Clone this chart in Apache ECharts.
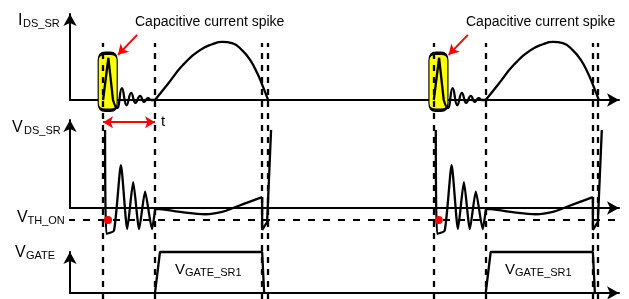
<!DOCTYPE html>
<html>
<head>
<meta charset="utf-8">
<script src="https://cdn.jsdelivr.net/npm/echarts@6.0.0/dist/echarts.min.js"></script>
<style>
  html, body { margin: 0; padding: 0; background: #fff; }
  #chart { width: 629px; height: 299px; }
</style>
</head>
<body>
<div id="chart"></div>
<script>
// time axis: one switching period = 10 units
var periodStarts = [0, 10];
var timeMax = 16.6;
var dashTimes = [1.0, 2.57, 5.8, 5.97];

// I_DS_SR (1 = peak of the conduction hump)
var idsSpike = [[1.0, 0], [1.16, 0.72], [1.3, 0]];
var idsRing = [[1.3, 0], [1.42, -0.14], [1.57, 0.2], [1.71, -0.09], [1.85, 0.12], [1.98, -0.05],
  [2.12, 0.07], [2.24, -0.03], [2.36, 0.03], [2.45, 0], [2.57, 0]];
var idsHump = [[2.57, 0], [2.94, 0.26], [3.42, 0.6], [3.93, 0.85], [4.3, 0.95], [4.6, 0.99],
  [4.9, 0.97], [5.2, 0.85], [5.45, 0.68], [5.66, 0.46], [5.84, 0.22], [5.99, 0]];

// V_DS_SR (1 = blocking voltage)
var vdsRing = [[1.06, 1.0], [1.1, -0.33], [1.33, -0.29], [1.54, 0.55], [1.73, -0.27], [1.91, 0.33],
  [2.09, -0.27], [2.27, 0.21], [2.48, -0.27], [2.57, -0.03]];
var vdsFlat = [[2.57, -0.03], [2.6, -0.01], [3.33, -0.05], [4.09, -0.08], [4.6, -0.05], [4.99, 0.01], [5.81, 0.14]];
var vdsEdge = [[5.81, 0.14], [5.81, -0.28], [5.96, -0.18], [6.08, 1.0]];
var vth = -0.154;
var vthDot = [1.15, vth];

// V_GATE
var gatePulse = [[2.57, 0], [2.72, 1.0], [5.81, 1.0], [5.87, 0]];

// annotations
var spikeBox = [1.14, 0.31];
var spikeArrow = [[2.03, 1.11], [1.45, 0.77]];
var tArrow = [[1.0, 1.1], [2.57, 1.1]];

function shift(points, dt) {
  return points.map(function (p) {
    return [p[0] + dt, p[1]];
  });
}

function wave(data, grid, smooth) {
  return {
    type: "line",
    xAxisIndex: grid,
    yAxisIndex: grid,
    data: data,
    smooth: smooth,
    symbol: "none",
    clip: false,
    silent: true,
    z: 5,
    lineStyle: { color: "#000", width: 2.3 },
  };
}

function xAx(grid, show) {
  return {
    gridIndex: grid,
    type: "value",
    min: 0,
    max: timeMax,
    show: show,
    axisLine: {
      show: true,
      onZero: false,
      symbol: ["none", "arrow"],
      symbolSize: [10, 12],
      lineStyle: { color: "#000", width: 2 },
    },
    axisTick: { show: false },
    axisLabel: { show: false },
    splitLine: { show: false },
  };
}

function yAx(grid, max, show) {
  return {
    gridIndex: grid,
    type: "value",
    min: 0,
    max: max,
    show: show,
    axisLine: {
      show: true,
      onZero: false,
      symbol: ["none", "arrow"],
      symbolSize: [10, 12],
      lineStyle: { color: "#000", width: 2 },
    },
    axisTick: { show: false },
    axisLabel: { show: false },
    splitLine: { show: false },
  };
}

function label(text, x, y, size) {
  return {
    type: "text",
    x: x,
    y: y,
    silent: true,
    style: {
      text: text,
      fill: "#000",
      font: size + 'px "Liberation Sans", Arial, sans-serif',
      align: "left",
      verticalAlign: "middle",
    },
  };
}

var series = [];
var allDash = [];
periodStarts.forEach(function (s, i) {
  dashTimes.forEach(function (t) {
    allDash.push({ xAxis: t + s });
  });
  series.push(wave(shift(idsSpike, s), 0, false));
  series.push(wave(shift(idsRing, s), 0, 0.5));
  series.push(wave(shift(idsHump, s), 0, 0.5));
  series.push(wave(shift(vdsRing, s), 1, 0.2));
  series.push(wave(shift(vdsFlat, s), 1, 0.4));
  series.push(wave(shift(vdsEdge, s), 1, false));
  series.push(wave(shift(gatePulse, s), 2, false));
  // yellow highlight round the spike
  series.push({
    type: "scatter",
    xAxisIndex: 0,
    yAxisIndex: 0,
    data: shift([spikeBox], s),
    symbol: "path://M7,0 L12,0 Q19,0 19,7 L19,50 Q19,57 12,57 L7,57 Q0,57 0,50 L0,7 Q0,0 7,0 Z",
    symbolSize: [19, 57],
    itemStyle: { color: "#ffff00", borderColor: "#000", borderWidth: 2, opacity: 1 },
    silent: true,
    clip: false,
    z: 1,
  });
  // red dot on V_TH_ON
  series.push({
    type: "scatter",
    xAxisIndex: 1,
    yAxisIndex: 1,
    data: shift([vthDot], s),
    symbolSize: 8,
    itemStyle: { color: "#ff0000", opacity: 1 },
    silent: true,
    clip: false,
    z: 6,
  });
  // red arrow to the spike
  var arr = shift(spikeArrow, s);
  var lines = [[{ coord: arr[0], symbol: "none" }, { coord: arr[1], symbol: "arrow" }]];
  series.push({
    type: "line",
    xAxisIndex: 0,
    yAxisIndex: 0,
    data: [],
    markLine: {
      silent: true,
      animation: false,
      symbolSize: [9, 10],
      label: { show: false },
      lineStyle: { color: "#ff0000", width: 2, type: "solid" },
      data: lines,
    },
    z: 6,
  });
  if (i == 0) {
    series.push({
      type: "line",
      xAxisIndex: 1,
      yAxisIndex: 1,
      data: [],
      markLine: {
        silent: true,
        animation: false,
        symbol: ["arrow", "arrow"],
        symbolSize: [9, 10],
        label: {
          show: true,
          position: "end",
          formatter: "t",
          color: "#000",
          fontSize: 15,
          fontFamily: '"Liberation Sans", Arial, sans-serif',
          distance: 6,
        },
        lineStyle: { color: "#ff0000", width: 2, type: "solid" },
        data: [[{ coord: tArrow[0] }, { coord: tArrow[1] }]],
      },
      z: 6,
    });
  }
});

// V_TH_ON dashed level
series.push({
  type: "line",
  xAxisIndex: 1,
  yAxisIndex: 1,
  data: [[-0.06, vth], [18, vth]],
  symbol: "none",
  clip: false,
  silent: true,
  z: 3,
  lineStyle: { color: "#000", width: 2, type: [7, 8] },
});

// vertical dashed timing marks
series.push({
  type: "line",
  xAxisIndex: 3,
  yAxisIndex: 3,
  data: [],
  markLine: {
    silent: true,
    animation: false,
    symbol: "none",
    label: { show: false },
    lineStyle: { color: "#000", width: 2.3, type: [6, 6] },
    data: allDash,
  },
  z: 3,
});

var option = {
  animation: false,
  backgroundColor: "#fff",
  grid: [
    { left: 70, right: 10, top: 14, height: 86, outerBoundsMode: "none" },
    { left: 70, right: 10, top: 120, height: 88, outerBoundsMode: "none" },
    { left: 70, right: 10, top: 252, height: 41, outerBoundsMode: "none" },
    { left: 70, right: 10, top: 43, bottom: 0, outerBoundsMode: "none" },
  ],
  xAxis: [xAx(0, true), xAx(1, true), xAx(2, true), xAx(3, false)],
  yAxis: [yAx(0, 1.466, true), yAx(1, 1.128, true), yAx(2, 1.0, true), yAx(3, 1, false)],
  series: series,
  graphic: [
    label("I", 18, 21, 16),
    label("DS_SR", 23, 24, 11),
    label("V", 12, 128, 16),
    label("DS_SR", 24, 131, 11),
    label("V", 17, 218, 16),
    label("TH_ON", 27.5, 221, 11),
    label("V", 15, 253, 16),
    label("GATE", 26, 256, 11),
    label("V", 175, 270, 15),
    label("GATE_SR1", 185, 273, 11),
    label("V", 505, 270, 15),
    label("GATE_SR1", 515, 273, 11),
    label("Capacitive current spike", 135, 22, 14),
    label("Capacitive current spike", 466, 22, 14),
  ],
};

var chart = echarts.init(document.getElementById("chart"));
chart.setOption(option);
</script>
</body>
</html>
